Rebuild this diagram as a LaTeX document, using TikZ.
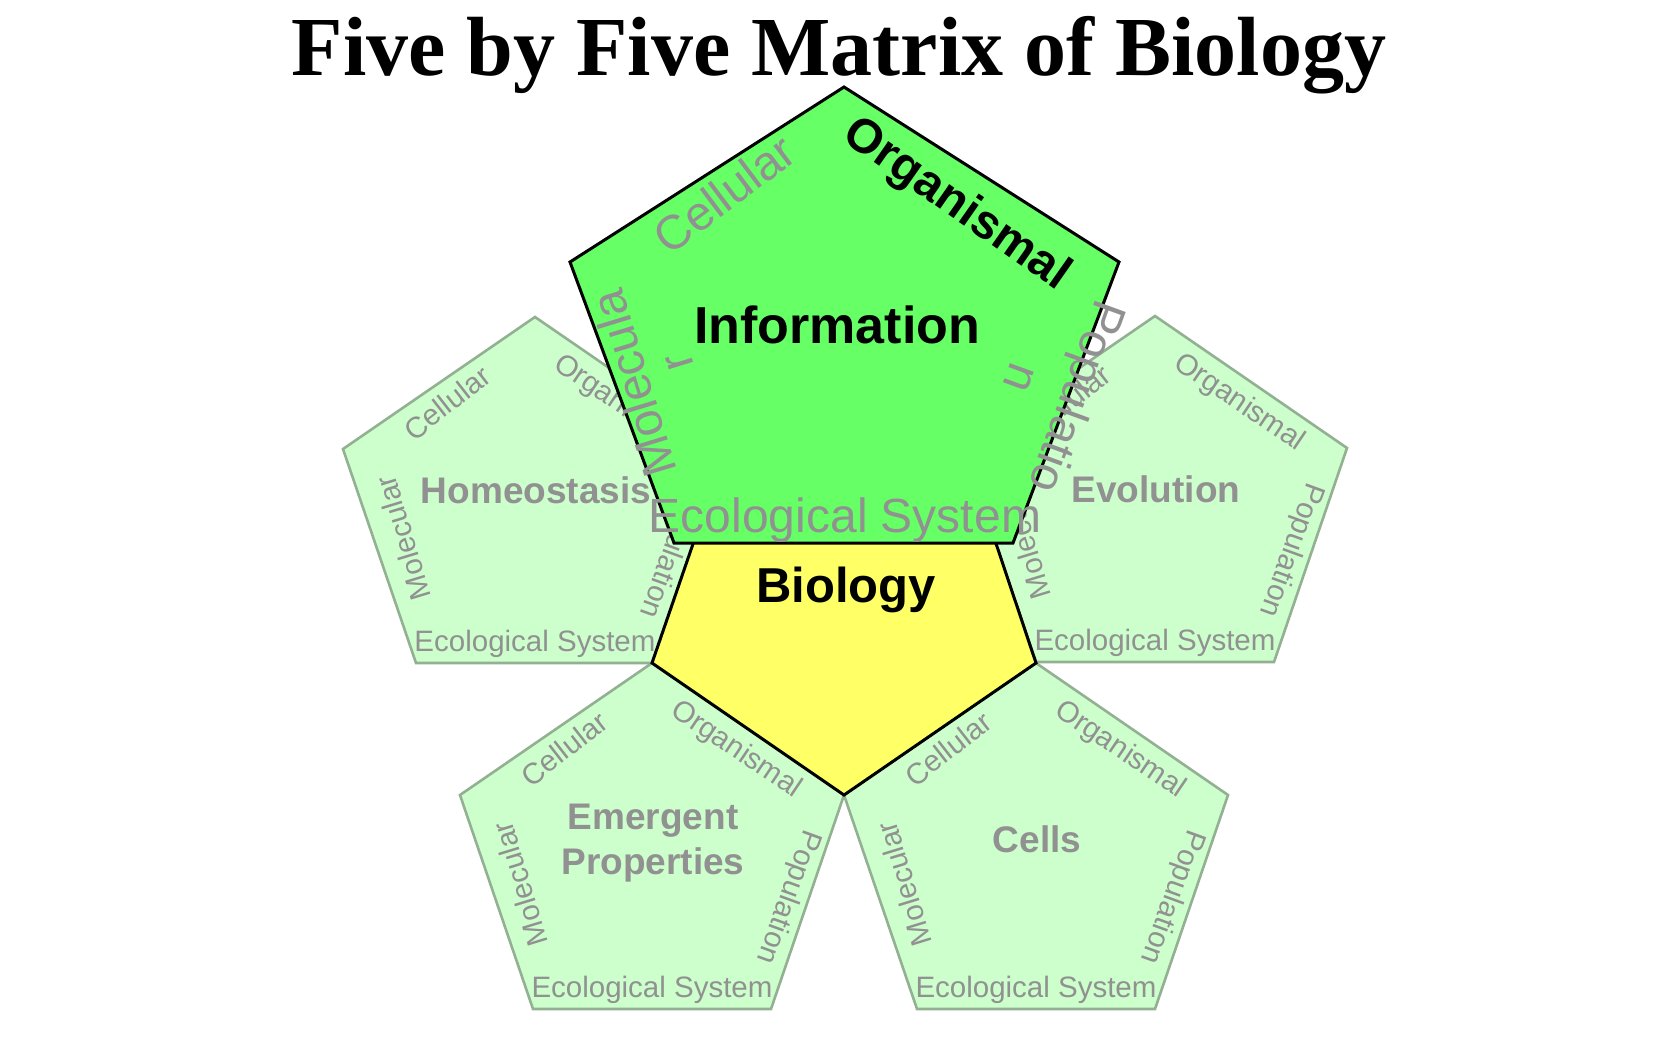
\documentclass[tikz,border=0pt]{standalone}
\usepackage{fontspec}
\setmainfont{Liberation Sans}
\newfontfamily\titlefont{Liberation Serif}
\definecolor{petalfill}{HTML}{CCFFCC}
\definecolor{petaledge}{RGB}{147,176,147}
\definecolor{gtext}{RGB}{145,145,145}
\definecolor{infogreen}{HTML}{66FF66}
\definecolor{bioyellow}{HTML}{FFFF66}
\tikzset{
  petalshape/.style={fill=petalfill, draw=petaledge, line width=2.6pt, line join=miter},
  coreshape/.style={draw=black, line width=3pt, line join=miter},
  edgetxt/.style={text=gtext, inner sep=0pt, font=\fontsize{29.5}{32}\selectfont},
  maintxt/.style={text=gtext, inner sep=0pt, align=center, font=\fontsize{37}{45}\selectfont\bfseries},
  bigedge/.style={text=gtext, inner sep=0pt, font=\fontsize{48}{52}\selectfont},
  bigbold/.style={text=black, inner sep=0pt, font=\fontsize{#1}{#1}\selectfont\bfseries},
}
\newcommand\petalpic[5]{%
  \begin{scope}[shift={(#2,#3)}]
    \draw[petalshape] (192,0) -- (384,132) -- (311,346) -- (73,346) -- (0,132) -- cycle;
    \node[edgetxt, rotate=38] (#1-cel) at (104,86) {Cellular};
    \node[edgetxt, rotate=-34] (#1-org) at (276,87) {Organismal};
    \node[edgetxt, rotate=-110] (#1-pop) at (328,234) {Population};
    \node[edgetxt, rotate=107] (#1-mol) at (60,221) {Molecular};
    \node[edgetxt] (#1-eco) at (192,327) {Ecological System};
    \node[maintxt] (#1-lab) at (193,#5) {#4};
  \end{scope}}
\begin{document}
\begin{tikzpicture}[x=1pt,y=-1pt]
\useasboundingbox (0,0) rectangle (1680,1050);
\fill[white] (0,0) rectangle (1680,1050);
% title
\node[anchor=base, inner sep=0pt, font=\titlefont\bfseries\fontsize{84}{90}\selectfont] (title) at (839,75) {Five by Five Matrix of Biology};
% petals
\petalpic{homeo}{343}{317}{Homeostasis}{173}
\petalpic{evol}{963}{316}{Evolution}{173}
\petalpic{emerg}{460}{663}{Emergent\\Properties}{180}
\petalpic{cells}{844}{663}{Cells}{176}
% centre
\draw[coreshape, fill=bioyellow] (726,448) -- (964,448) -- (1036,663) -- (844,795) -- (652,663) -- cycle;
\node[bigbold=49] (biology) at (846,590) {Biology};
% information
\draw[coreshape, fill=infogreen] (844,87) -- (1119,262) -- (1013,543) -- (674,543) -- (570,262) -- cycle;
\node[bigedge, rotate=37] (info-cel) at (724,194) {Cellular};
\node[bigbold=48, rotate=-35] (info-org) at (956,205) {Organismal};
\node[bigbold=52] (info-lab) at (837,325) {Information};
\node[bigedge, rotate=107] (info-mol) at (633,384) {Molecula};
\node[bigedge, rotate=107] (info-mol2) at (680,362) {r};
\node[bigedge, rotate=-110] (info-pop) at (1074,396) {Populatio};
\node[bigedge, rotate=-110] (info-pop2) at (1019,377) {n};
\node[bigedge] (info-eco) at (845,520) {Ecological System};
\end{tikzpicture}
\end{document}
